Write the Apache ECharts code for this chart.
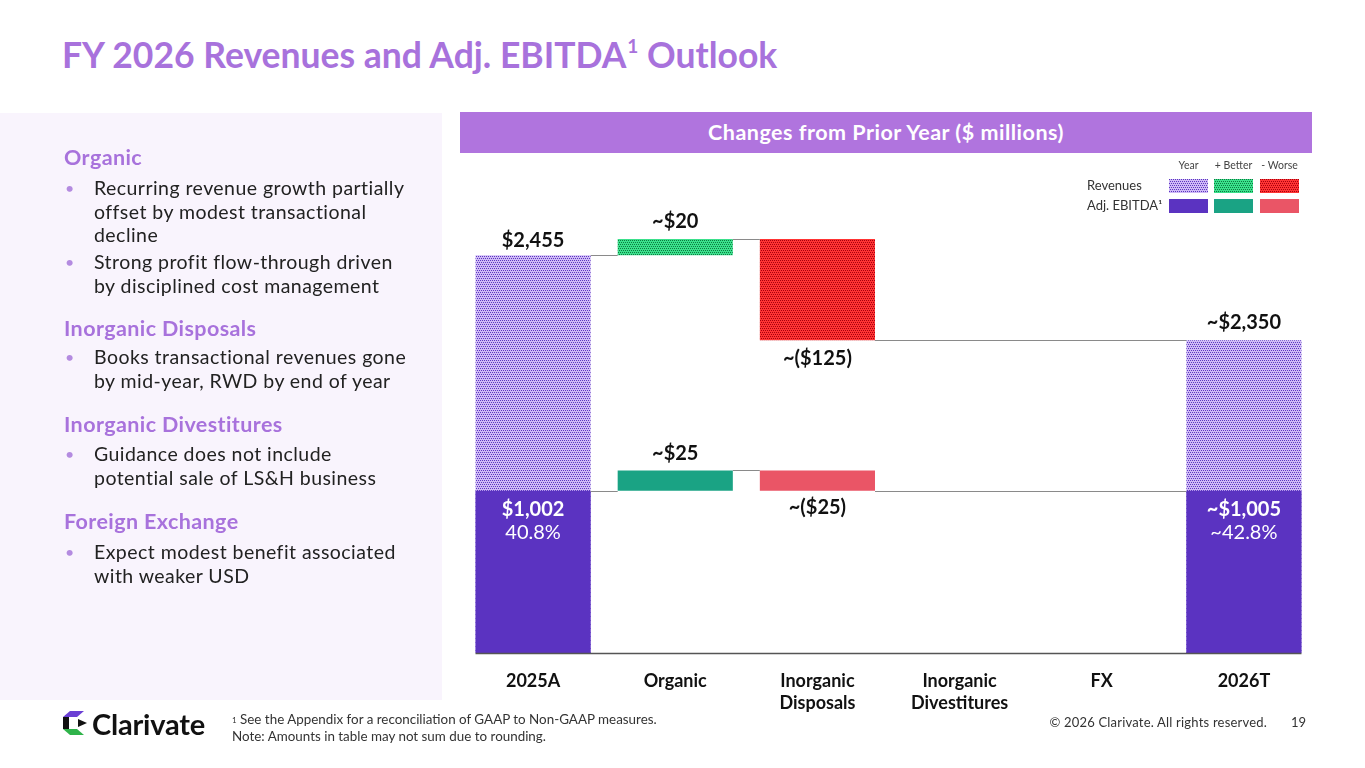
<!DOCTYPE html>
<html>
<head>
<meta charset="utf-8">
<script src="https://cdn.jsdelivr.net/npm/echarts@6/dist/echarts.min.js"></script>
<style>
  html, body { margin:0; padding:0; background:#fff; }
  body { width:1365px; height:768px; position:relative; overflow:hidden; font-family: Lato, "Noto Sans", sans-serif; }
  #title { position:absolute; left:62px; top:33px; font-size:35.5px; font-weight:700; color:#a872dc; white-space:nowrap; letter-spacing:0px; }
  #title sup { font-size:19px; vertical-align:top; position:relative; top:1px; margin-left:1px; }
  #panel { position:absolute; left:0; top:113px; width:442px; height:587px; background:#f9f4fd; z-index:0; }
  .sec { position:absolute; left:64px; font-size:21.5px; line-height:26px; font-weight:700; color:#a872dc; white-space:nowrap; letter-spacing:0.4px; z-index:2; }
  .bul { position:absolute; left:94px; font-size:19.5px; line-height:23.5px; color:#222; white-space:nowrap; letter-spacing:0.45px; z-index:2; }
  .bul::before { content:"•"; position:absolute; left:-29px; color:#b48be0; font-size:16px; }
  #hdr { position:absolute; left:460px; top:112px; width:852px; height:41px; background:#b074de; color:#fff; font-size:21.5px; font-weight:700; text-align:center; line-height:41px; z-index:2; letter-spacing:0.5px; }
  #chart { position:absolute; left:0; top:0; width:1365px; height:768px; z-index:1; }
  #logo { position:absolute; left:62px; top:709px; height:28px; display:flex; align-items:center; z-index:2; }
  #logo span { font-size:29px; font-weight:700; color:#111; margin-left:4px; letter-spacing:-0.2px; }
  #foot { position:absolute; left:232px; top:711px; font-size:13.4px; line-height:16.5px; color:#333; z-index:2; white-space:nowrap; }
  #foot sup { font-size:8px; vertical-align:top; position:relative; top:1px; }
  #copy { position:absolute; right:98px; top:714px; font-size:13px; color:#333; z-index:2; white-space:nowrap; letter-spacing:0.2px; }
  #page { position:absolute; left:1291px; top:714px; font-size:13px; color:#333; z-index:2; }
</style>
</head>
<body>
<div id="title">FY 2026 Revenues and Adj. EBITDA<sup>1</sup> Outlook</div>
<div id="panel"></div>
<div class="sec" style="top:144px">Organic</div>
<div class="bul" style="top:176px">Recurring revenue growth partially<br>offset by modest transactional<br>decline</div>
<div class="bul" style="top:250px">Strong profit flow-through driven<br>by disciplined cost management</div>
<div class="sec" style="top:315px">Inorganic Disposals</div>
<div class="bul" style="top:345px">Books transactional revenues gone<br>by mid-year, RWD by end of year</div>
<div class="sec" style="top:411px">Inorganic Divestitures</div>
<div class="bul" style="top:442px">Guidance does not include<br>potential sale of LS&amp;H business</div>
<div class="sec" style="top:508px">Foreign Exchange</div>
<div class="bul" style="top:540px">Expect modest benefit associated<br>with weaker USD</div>
<div id="hdr">Changes from Prior Year ($ millions)</div>
<div id="chart"></div>
<div id="logo">
  <svg width="26" height="26" viewBox="0 0 26 26">
    <polygon points="1,7 8,1 22,1 15,7" fill="#6b3fd4"/>
    <rect x="1" y="7" width="6" height="12" fill="#111"/>
    <polygon points="1,19 15,19 22,25 8,25" fill="#2fb34a"/>
    <polygon points="16,9 25,13 16,17" fill="#111"/>
  </svg>
  <span>Clarivate</span>
</div>
<div id="foot"><sup>1</sup> See the Appendix for a reconciliation of GAAP to Non-GAAP measures.<br>Note: Amounts in table may not sum due to rounding.</div>
<div id="copy">© 2026 Clarivate. All rights reserved.</div>
<div id="page">19</div>
<script>
// ---------------- DATA ----------------
const categories = ['2025A', 'Organic', 'Inorganic\nDisposals', 'Inorganic\nDivestitures', 'FX', '2026T'];
// year totals (first/last) and changes ($ millions); null = no bar shown
const revenueValues = [2455, 20, -125, null, null, 2350];
const ebitdaValues  = [1002, 25, -25, null, null, 1005];
const revenueLabels = ['$2,455', '~$20', '~($125)', '', '', '~$2,350'];
const ebitdaLabels  = ['$1,002', '~$25', '~($25)', '', '', '~$1,005'];
const ebitdaMargins = ['40.8%', '', '', '', '', '~42.8%'];
const legendColumns = ['Year', '+ Better', '- Worse'];
const legendRows = ['Revenues', 'Adj. EBITDA¹'];
// the reference draws the changes at 5x the scale of the year totals (broken scale)
const CHANGE_SCALE = 5;

// ---------------- PATTERNS ----------------
function makePattern(bg, dot) {
  const c = document.createElement('canvas');
  c.width = 4; c.height = 4;
  const g = c.getContext('2d');
  g.fillStyle = bg; g.fillRect(0, 0, 4, 4);
  g.fillStyle = dot;
  [[0,0],[2,0],[1,2],[3,2]].forEach(p => g.fillRect(p[0], p[1], 1, 1));
  return { image: c, repeat: 'repeat' };
}
const revYear   = makePattern('#cfbaf6', '#5b36c0');
const revBetter = makePattern('#3be08c', '#0c7a40');
const revWorse  = makePattern('#ff3434', '#a8000e');
const ebYear = '#5b33c1', ebBetter = '#1aa384', ebWorse = '#ea5566';

// ---------------- WALK ----------------
let prevLevel = 0;
function walk(values) {
  const base = [], height = [], kind = [], links = [];
  let level = 0, last = -1;
  values.forEach((v, i) => {
    if (v === null) { base.push('-'); height.push('-'); kind.push(null); return; }
    if (i === 0) { base.push(0); height.push(v); kind.push('year'); level = v; }
    else if (i === values.length - 1) { base.push(0); height.push(level); kind.push('year'); }
    else {
      const d = v * CHANGE_SCALE;
      if (d >= 0) { base.push(level); height.push(d); kind.push('better'); }
      else { base.push(level + d); height.push(-d); kind.push('worse'); }
    }
    if (last >= 0) links.push([last, i, prevLevel]);
    if (i !== 0 && i !== values.length - 1) level += v * CHANGE_SCALE;
    prevLevel = level; last = i;
  });
  return { base, height, kind, links };
}
const rev = walk(revenueValues);
const eb = walk(ebitdaValues);

const BAR_W = 0.81;
const labelFont = { fontFamily: 'Lato', fontSize: 20, fontWeight: 700, color: '#111' };

function revData() {
  return rev.height.map((h, i) => {
    if (h === '-') return '-';
    const k = rev.kind[i];
    return {
      value: h,
      itemStyle: { color: k === 'year' ? revYear : k === 'better' ? revBetter : revWorse },
      label: Object.assign({ show: true, position: k === 'worse' ? 'bottom' : 'top',
        distance: k === 'year' && i === 0 ? 5 : 8, formatter: revenueLabels[i] }, labelFont)
    };
  });
}
function ebData() {
  return eb.height.map((h, i) => {
    if (h === '-') return '-';
    const k = eb.kind[i];
    const lab = k === 'year'
      ? { show: true, position: 'insideTop', distance: 7, formatter: '{a|' + ebitdaLabels[i] + '}\n{b|' + ebitdaMargins[i] + '}',
          rich: { a: { fontFamily: 'Lato', fontSize: 20, fontWeight: 700, color: '#fff', lineHeight: 23 },
                  b: { fontFamily: 'Lato', fontSize: 20, fontWeight: 400, color: '#fff', lineHeight: 23 } } }
      : Object.assign({ show: true, position: k === 'worse' ? 'bottom' : 'top', distance: 7, formatter: ebitdaLabels[i] }, labelFont);
    return { value: h, itemStyle: { color: k === 'year' ? ebYear : k === 'better' ? ebBetter : ebWorse }, label: lab };
  });
}

const links = rev.links.concat(eb.links).map(l => [l[0], l[1], l[2], 0]);
links.push([0, categories.length - 1, 0, 1]); // baseline

const chart = echarts.init(document.getElementById('chart'), null, { renderer: 'canvas' });

const legendGraphics = [];
const colX = [1169, 1214, 1260], swW = 39;
legendColumns.forEach((t, j) => legendGraphics.push({ type: 'text', x: colX[j] + swW / 2, y: 160,
  style: { text: t, fontFamily: 'Lato', fontSize: 10.5, fill: '#444', textAlign: 'center' } }));
const fills = [[revYear, revBetter, revWorse], [ebYear, ebBetter, ebWorse]];
legendRows.forEach((t, r) => {
  legendGraphics.push({ type: 'text', x: 1087, y: 179 + r * 20, style: { text: t, fontFamily: 'Lato', fontSize: 13, fill: '#333' } });
  fills[r].forEach((f, j) => legendGraphics.push({ type: 'rect', x: colX[j], y: 179 + r * 20,
    shape: { x: 0, y: 0, width: swW, height: 14 }, style: { fill: f } }));
});

chart.setOption({
  animation: false,
  backgroundColor: 'transparent',
  grid: { left: 462, right: 50, top: 167, bottom: 115 },
  xAxis: {
    type: 'category', data: categories,
    axisLine: { show: false }, axisTick: { show: false },
    axisLabel: { interval: 0, margin: 17, fontFamily: 'Lato', fontSize: 18, fontWeight: 700, color: '#111', lineHeight: 22 }
  },
  yAxis: { type: 'value', min: 0, max: 3000, show: false, splitLine: { show: false } },
  graphic: legendGraphics,
  series: [
    { name: 'revBase', type: 'bar', stack: 'rev', barWidth: (BAR_W * 100) + '%', barGap: '-100%', silent: true,
      itemStyle: { color: 'transparent' }, data: rev.base },
    { name: 'Revenues', type: 'bar', stack: 'rev', barWidth: (BAR_W * 100) + '%', barGap: '-100%', data: revData() },
    { name: 'ebBase', type: 'bar', stack: 'eb', barWidth: (BAR_W * 100) + '%', barGap: '-100%', silent: true,
      itemStyle: { color: 'transparent' }, data: eb.base },
    { name: 'Adj. EBITDA', type: 'bar', stack: 'eb', barWidth: (BAR_W * 100) + '%', barGap: '-100%', data: ebData() },
    { name: 'connectors', type: 'custom', silent: true, z: 5,
      encode: { x: [0, 1], y: 2 },
      data: links,
      renderItem: function (params, api) {
        const i0 = api.value(0), i1 = api.value(1), v = api.value(2), isBase = api.value(3) === 1;
        const p0 = api.coord([i0, v]), p1 = api.coord([i1, v]);
        const bw = api.size([1, 0])[0] * BAR_W;
        const x1 = isBase ? p0[0] - bw / 2 : p0[0] + bw / 2;
        const x2 = isBase ? p1[0] + bw / 2 : p1[0] - bw / 2;
        const y = Math.round(p0[1]) + 0.5;
        return { type: 'line', shape: { x1: x1, y1: y, x2: x2, y2: y },
          style: { stroke: isBase ? '#555' : '#8a8a8a', lineWidth: isBase ? 1.5 : 1 } };
      }
    }
  ]
});
</script>
</body>
</html>
